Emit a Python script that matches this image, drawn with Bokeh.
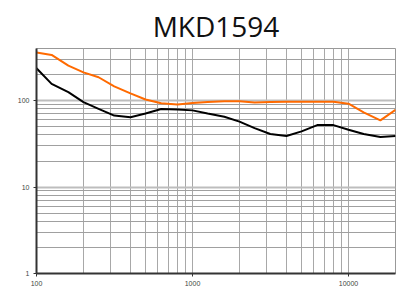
from bokeh.plotting import figure
from bokeh.models import FixedTicker, Range1d
from bokeh.embed import file_html
from bokeh.resources import INLINE

# Data (1/3-octave frequencies, Hz)
freq = [100, 125, 160, 200, 250, 315, 400, 500, 630, 800, 1000, 1250, 1600,
        2000, 2500, 3150, 4000, 5000, 6300, 8000, 10000, 12500, 16000, 20000]
orange_vals = [360, 337, 253, 212, 186, 146, 121, 103, 93, 90, 94, 96, 98,
               98, 95, 96, 97, 97, 97, 97, 92, 73, 59, 78]
black_vals = [236, 156, 125, 96, 80, 67, 64, 71, 80, 79, 77, 71, 65,
              57, 48, 41, 39, 44, 52, 52, 46, 41, 38, 39]

title_text = "MKD1594"
x_major = [100, 1000, 10000]
x_minor = [200, 300, 400, 500, 600, 700, 800, 900,
           2000, 3000, 4000, 5000, 6000, 7000, 8000, 9000]
y_major = [1, 10, 100]
y_minor = [2, 3, 4, 5, 6, 7, 8, 9, 20, 30, 40, 50, 60, 70, 80, 90, 200, 300, 400]

p = figure(width=404, height=289, x_axis_type="log", y_axis_type="log",
           x_range=Range1d(100, 20000), y_range=Range1d(1, 400),
           output_backend="svg", toolbar_location=None, title=title_text,
           min_border_left=36, min_border_right=9, min_border_top=48,
           min_border_bottom=16)

p.title.text_font = "Open Sans"
p.title.text_font_size = "28px"
p.title.text_font_style = "normal"
p.title.text_color = "#111111"
p.title.align = "center"
p.title.standoff = 8

p.xaxis.ticker = FixedTicker(ticks=x_major, minor_ticks=x_minor)
p.yaxis.ticker = FixedTicker(ticks=y_major, minor_ticks=y_minor)
p.xaxis.major_label_overrides = {v: str(v) for v in x_major}
p.yaxis.major_label_overrides = {v: str(v) for v in y_major}

for ax in (p.xaxis, p.yaxis):
    ax.axis_line_color = "#333333"
    ax.axis_line_width = 2
    ax.major_tick_line_color = "#333333"
    ax.major_tick_in = 0
    ax.major_tick_out = 3
    ax.minor_tick_line_color = None
    ax.major_label_text_font = "Liberation Sans"
    ax.major_label_text_font_size = "7px"
    ax.major_label_text_color = "#444444"
    ax.major_label_standoff = 3

p.xgrid.grid_line_color = "#a8a8a8"
p.xgrid.minor_grid_line_color = "#a8a8a8"
p.ygrid.grid_line_color = "#bdbdbd"
p.ygrid.grid_line_width = 2
p.ygrid.minor_grid_line_color = "#a0a0a0"

p.outline_line_color = "#999999"
p.outline_line_width = 1
p.background_fill_color = "white"
p.border_fill_color = "white"

p.line(freq, orange_vals, line_color="#FF6A00", line_width=2)
p.line(freq, black_vals, line_color="#000000", line_width=2)

open("out.html", "w").write(file_html(p, INLINE))
